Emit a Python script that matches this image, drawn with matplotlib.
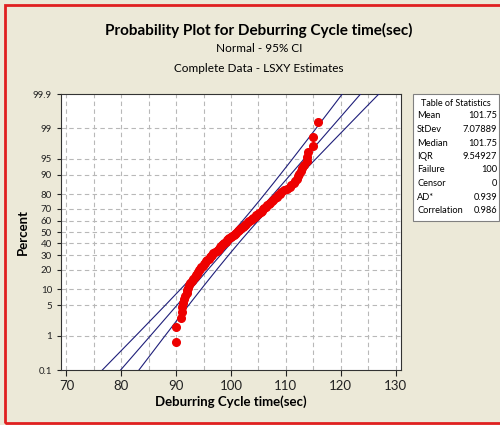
import math
import numpy as np
import matplotlib
matplotlib.use('Agg')
import matplotlib.pyplot as plt
from matplotlib.patches import Rectangle
from matplotlib.ticker import FixedLocator, MultipleLocator

# cycle times (sorted, n = 100)
cycle_time = [
    90.0, 90.0, 90.9, 91.0, 91.1, 91.2, 91.4, 91.6, 91.9, 92.0,
    92.2, 92.4, 92.6, 92.9, 93.1, 93.4, 93.6, 93.8, 94.0, 94.2,
    94.4, 94.6, 94.9, 95.1, 95.3, 95.5, 95.7, 95.9, 96.1, 96.3,
    96.5, 96.8, 97.1, 97.4, 97.6, 97.8, 98.0, 98.2, 98.4, 98.6,
    98.8, 99.0, 99.2, 99.5, 99.7, 100.0, 100.2, 100.5, 100.7, 100.9,
    101.2, 101.4, 101.6, 101.9, 102.1, 102.3, 102.6, 102.8, 103.1, 103.3,
    103.6, 103.8, 104.1, 104.3, 104.6, 104.9, 105.1, 105.4, 105.6, 105.9,
    106.1, 106.4, 106.6, 106.9, 107.1, 107.4, 107.7, 108.0, 108.3, 108.6,
    108.9, 109.2, 109.7, 110.2, 110.7, 111.0, 111.4, 111.7, 112.0, 112.2,
    112.4, 112.7, 112.9, 113.3, 113.9, 113.9, 114.0, 115.0, 115.0, 115.9,
]

MEAN = 101.75
STDEV = 7.07889
N = 100

stat_labels = ['Mean', 'StDev', 'Median', 'IQR', 'Failure', 'Censor', 'AD*', 'Correlation']
stat_values = ['101.75', '7.07889', '101.75', '9.54927', '100', '0', '0.939', '0.986']

pct_ticks = [0.1, 1, 5, 10, 20, 30, 40, 50, 60, 70, 80, 90, 95, 99, 99.9]
pct_grid = [1, 5, 10, 20, 30, 40, 50, 60, 70, 80, 90, 95, 99]


def norm_ppf(p):
    # Acklam's rational approximation
    a = [-3.969683028665376e+01, 2.209460984245205e+02, -2.759285104469687e+02,
         1.383577518672690e+02, -3.066479806614716e+01, 2.506628277459239e+00]
    b = [-5.447609879822406e+01, 1.615858368580409e+02, -1.556989798598866e+02,
         6.680131188771972e+01, -1.328068155288572e+01]
    c = [-7.784894002430293e-03, -3.223964580411365e-01, -2.400758277161838e+00,
         -2.549732539343734e+00, 4.374664141464968e+00, 2.938163982698783e+00]
    d = [7.784695709041462e-03, 3.224671290700398e-01, 2.445134137142996e+00,
         3.754408661907416e+00]
    p = min(max(float(p), 1e-12), 1 - 1e-12)
    pl = 0.02425
    if p < pl:
        q = math.sqrt(-2 * math.log(p))
        return (((((c[0]*q+c[1])*q+c[2])*q+c[3])*q+c[4])*q+c[5]) / ((((d[0]*q+d[1])*q+d[2])*q+d[3])*q+1)
    if p > 1 - pl:
        q = math.sqrt(-2 * math.log(1 - p))
        return -(((((c[0]*q+c[1])*q+c[2])*q+c[3])*q+c[4])*q+c[5]) / ((((d[0]*q+d[1])*q+d[2])*q+d[3])*q+1)
    q = p - 0.5
    r = q * q
    return (((((a[0]*r+a[1])*r+a[2])*r+a[3])*r+a[4])*r+a[5])*q / (((((b[0]*r+b[1])*r+b[2])*r+b[3])*r+b[4])*r+1)


_ppf = np.vectorize(lambda v: norm_ppf(v / 100.0), otypes=[float])
_cdf = np.vectorize(lambda z: 50.0 * (1 + math.erf(z / math.sqrt(2))), otypes=[float])


def fwd(pct):
    return _ppf(np.asarray(pct, dtype=float))


def inv(z):
    return _cdf(np.asarray(z, dtype=float))


BG = '#ECE9D8'
plt.rcParams['font.family'] = ['Lato', 'DejaVu Sans']

fig = plt.figure(figsize=(5, 4.25), dpi=100, facecolor=BG)
ax = fig.add_axes([0.122, 0.1294, 0.68, 0.6494])
ax.set_yscale('function', functions=(fwd, inv))

# median ranks
ranks = [(i + 1 - 0.3) / (N + 0.4) * 100 for i in range(N)]

# fitted line + 95% CI
zz = np.linspace(-3.3, 3.3, 200)
pp = inv(zz)
center = MEAN + zz * STDEV
half = 1.96 * STDEV / math.sqrt(N) * np.sqrt(1 + zz ** 2 / 2)
for xs in (center, center - half, center + half):
    ax.plot(xs, pp, color='#1f1f7a', lw=0.8, zorder=3)

ax.plot(cycle_time, ranks, 'o', color='#ee0000', markersize=5.5, mec='#ee0000', zorder=4)

ax.set_xlim(69, 131)
ax.set_ylim(0.1, 99.9)
ax.xaxis.set_major_locator(MultipleLocator(10))
ax.xaxis.set_minor_locator(MultipleLocator(5))
ax.yaxis.set_major_locator(FixedLocator(pct_ticks))
ax.yaxis.set_minor_locator(FixedLocator([]))
ax.set_yticklabels([('%g' % t) for t in pct_ticks])
ax.tick_params(axis='y', labelsize=7, length=3, colors='#222222')
ax.tick_params(axis='x', labelsize=9.5, length=4, colors='#222222')
ax.tick_params(axis='x', which='minor', length=0)

for x in range(70, 131, 5):
    ax.axvline(x, color='#b8b8b8', lw=0.8, ls=(0, (4, 3)), zorder=1)
for y in pct_grid:
    ax.axhline(y, color='#b8b8b8', lw=0.8, ls=(0, (4, 3)), zorder=1)

for s in ['top', 'right', 'left', 'bottom']:
    ax.spines[s].set_color('#333333')
    ax.spines[s].set_linewidth(0.8)

ax.set_xlabel('Deburring Cycle time(sec)', fontsize=9.5, fontweight='bold', labelpad=2)
ax.set_ylabel('Percent', fontsize=9.5, fontweight='bold', labelpad=3)

fig.text(0.518, 0.928, 'Probability Plot for Deburring Cycle time(sec)', ha='center', va='center',
         fontsize=11, fontweight='bold')
fig.text(0.518, 0.887, 'Normal - 95% CI', ha='center', va='center', fontsize=8.5)
fig.text(0.518, 0.840, 'Complete Data - LSXY Estimates', ha='center', va='center', fontsize=8.5)

# table of statistics
W, H = 500.0, 425.0
fig.patches.append(Rectangle((413 / W, 1 - 221 / H), 86 / W, 127 / H, transform=fig.transFigure,
                             facecolor='white', edgecolor='#808080', lw=0.8))
fig.text(456 / W, 1 - 103 / H, 'Table of Statistics', ha='center', va='center', fontsize=6.5)
for k, (lab, val) in enumerate(zip(stat_labels, stat_values)):
    y = 1 - (116 + k * 13.5) / H
    fig.text(417 / W, y, lab, ha='left', va='center', fontsize=6.7)
    fig.text(497 / W, y, val, ha='right', va='center', fontsize=6.7)

# red frame
fig.patches.append(Rectangle((5 / W, 1 - 423 / H), 510 / W, 418 / H, transform=fig.transFigure,
                             facecolor='none', edgecolor='#e02020', lw=2))

fig.savefig('out.png', dpi=100, facecolor=BG)
